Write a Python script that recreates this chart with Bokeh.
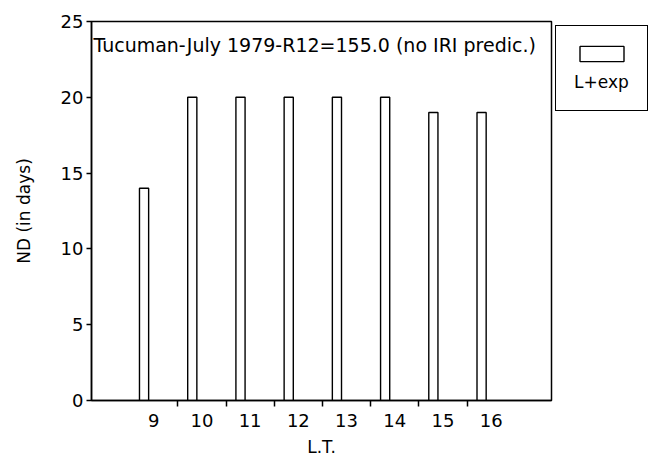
from bokeh.plotting import figure
from bokeh.models import Range1d, FixedTicker, Label, Legend, LegendItem
from bokeh.embed import file_html
from bokeh.resources import INLINE

hours = [9, 10, 11, 12, 13, 14, 15, 16]
nd = [14, 20, 20, 20, 20, 20, 19, 19]
y_ticks = [0, 5, 10, 15, 20, 25]
title_text = "Tucuman-July 1979-R12=155.0 (no IRI predic.)"
series_name = "L+exp"

FONT = "DejaVu Sans"

p = figure(frame_width=460, frame_height=379, output_backend="svg", toolbar_location=None,
           x_range=Range1d(7.71, 17.25), y_range=Range1d(0, 25),
           min_border_left=91, min_border_right=0, min_border_top=21, min_border_bottom=61)
p.background_fill_color = "white"
p.border_fill_color = "white"
p.outline_line_color = "black"
p.outline_line_width = 1.5
p.outline_line_alpha = 1.0
p.xgrid.visible = False
p.ygrid.visible = False

bar_x = [h - 0.2 for h in hours]
r = p.vbar(x=bar_x, top=nd, width=0.19, bottom=0, fill_color="white",
           line_color="black", line_width=1.4)

# axes
p.xaxis.ticker = FixedTicker(ticks=hours, minor_ticks=[h + 0.5 for h in hours[:-1]])
p.xaxis.major_tick_out = 0
p.xaxis.major_tick_in = 0
p.xaxis.minor_tick_out = 6
p.xaxis.minor_tick_in = 0
p.xaxis.minor_tick_line_color = "black"
p.xaxis.minor_tick_line_width = 1.5
p.xaxis.major_label_standoff = 7
p.xaxis.axis_label = "L.T."
p.xaxis.axis_label_standoff = 7

p.yaxis.ticker = FixedTicker(ticks=y_ticks, minor_ticks=[])
p.yaxis.major_tick_out = 5
p.yaxis.major_tick_in = 0
p.yaxis.major_label_standoff = 3
p.yaxis.axis_label = "ND (in days)"
p.yaxis.axis_label_standoff = 24

for ax in (p.xaxis[0], p.yaxis[0]):
    ax.axis_line_color = "black"
    ax.axis_line_width = 1.5
    ax.major_tick_line_color = "black"
    ax.major_tick_line_width = 1.5
    ax.major_label_text_font = FONT
    ax.major_label_text_font_size = "18px"
    ax.major_label_text_color = "black"
    ax.axis_label_text_font = FONT
    ax.axis_label_text_font_size = "17px"
    ax.axis_label_text_font_style = "normal"
    ax.axis_label_text_color = "black"

p.add_layout(Label(x=7.75, y=23.45, text=title_text, text_font=FONT,
                   text_font_size="19px", text_baseline="middle", text_color="black"))

legend = Legend(items=[LegendItem(label="", renderers=[r])],
                location="top_left", title=series_name, title_location="below",
                title_text_font=FONT, title_text_font_size="17px",
                title_text_font_style="normal", title_text_color="black",
                glyph_width=55, glyph_height=19, padding=18, margin=4,
                label_width=0, label_standoff=0,
                border_line_color="black", border_line_width=1.5, border_line_alpha=1.0,
                background_fill_alpha=1.0, title_standoff=9, spacing=0)
p.add_layout(legend, "right")

open("out.html", "w").write(file_html(p, INLINE))
